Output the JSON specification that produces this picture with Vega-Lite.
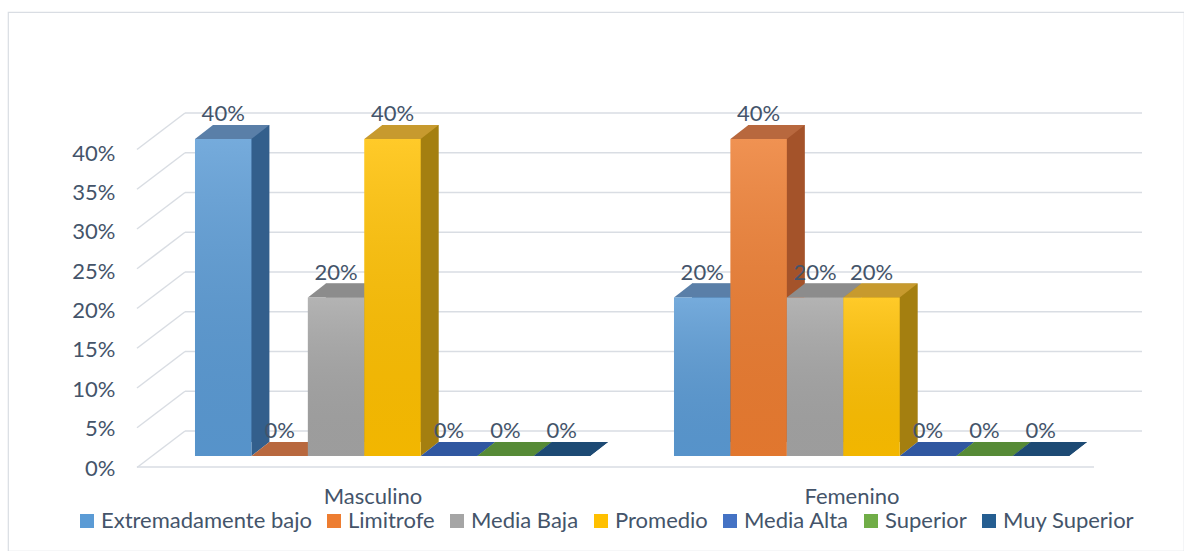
{
  "$schema": "https://vega.github.io/schema/vega-lite/v6.json",
  "width": 1176,
  "height": 539,
  "autosize": {"type": "none"},
  "padding": {"left": 8, "top": 12, "right": 0, "bottom": 0},
  "background": "white",
  "config": {"view": {"stroke": "#D9DDE3", "strokeWidth": 1.2}, "font": "Lato"},
  "data": {"values": [
    {"grupo": "Masculino", "nivel": "Extremadamente bajo", "valor": 0.4},
    {"grupo": "Masculino", "nivel": "Limitrofe", "valor": 0},
    {"grupo": "Masculino", "nivel": "Media Baja", "valor": 0.2},
    {"grupo": "Masculino", "nivel": "Promedio", "valor": 0.4},
    {"grupo": "Masculino", "nivel": "Media Alta", "valor": 0},
    {"grupo": "Masculino", "nivel": "Superior", "valor": 0},
    {"grupo": "Masculino", "nivel": "Muy Superior", "valor": 0},
    {"grupo": "Femenino", "nivel": "Extremadamente bajo", "valor": 0.2},
    {"grupo": "Femenino", "nivel": "Limitrofe", "valor": 0.4},
    {"grupo": "Femenino", "nivel": "Media Baja", "valor": 0.2},
    {"grupo": "Femenino", "nivel": "Promedio", "valor": 0.2},
    {"grupo": "Femenino", "nivel": "Media Alta", "valor": 0},
    {"grupo": "Femenino", "nivel": "Superior", "valor": 0},
    {"grupo": "Femenino", "nivel": "Muy Superior", "valor": 0}
  ]},
  "layer": [
    {
      "data": {"values": [{"t": 0}, {"t": 0.05}, {"t": 0.1}, {"t": 0.15}, {"t": 0.2}, {"t": 0.25}, {"t": 0.3}, {"t": 0.35}, {"t": 0.4}]},
      "mark": {"type": "rule", "color": "#D9DDE3", "strokeWidth": 1.5},
      "encoding": {
        "y": {"field": "t", "type": "quantitative", "scale": {"domain": [-0.15094, 0.52704], "nice": false, "zero": false}, "axis": null},
        "x": {"datum": 0, "type": "quantitative", "scale": {"domain": [-0.18495, 1.04389], "nice": false, "zero": false}, "axis": null},
        "x2": {"datum": 1}
      }
    },
    {
      "data": {"values": [{"t": 0}, {"t": 0.05}, {"t": 0.1}, {"t": 0.15}, {"t": 0.2}, {"t": 0.25}, {"t": 0.3}, {"t": 0.35}, {"t": 0.4}]},
      "mark": {"type": "rule", "color": "#D9DDE3", "strokeWidth": 1.5, "y2Offset": 36.5},
      "encoding": {
        "y": {"field": "t", "type": "quantitative", "scale": {"domain": [-0.15094, 0.52704], "nice": false, "zero": false}, "axis": null},
        "y2": {"field": "t"},
        "x": {"datum": 0, "type": "quantitative", "scale": {"domain": [-0.18495, 1.04389], "nice": false, "zero": false}, "axis": null},
        "x2": {"datum": -0.05016}
      }
    },
    {
      "data": {"values": [{"t": 0}]},
      "mark": {"type": "rule", "color": "#D9DDE3", "strokeWidth": 1.5, "yOffset": 36},
      "encoding": {
        "y": {"field": "t", "type": "quantitative", "scale": {"domain": [-0.15094, 0.52704], "nice": false, "zero": false}, "axis": null},
        "x": {"datum": -0.05016, "type": "quantitative", "scale": {"domain": [-0.18495, 1.04389], "nice": false, "zero": false}, "axis": null},
        "x2": {"datum": 0.94984}
      }
    },
    {
      "data": {"values": [{"t": 0}, {"t": 0.05}, {"t": 0.1}, {"t": 0.15}, {"t": 0.2}, {"t": 0.25}, {"t": 0.3}, {"t": 0.35}, {"t": 0.4}]},
      "mark": {"type": "point", "opacity": 0},
      "encoding": {
        "y": {"field": "t", "type": "quantitative", "scale": {"domain": [-0.10546, 0.57942], "nice": false, "zero": false},
          "axis": {"orient": "left", "offset": -107, "values": [0, 0.05, 0.1, 0.15, 0.2, 0.25, 0.3, 0.35, 0.4], "format": ".0%", "grid": false, "domain": false, "ticks": false, "labelPadding": 0, "title": null, "labelFont": "Lato", "labelFontSize": 22, "labelColor": "#44546A", "labelBaseline": "middle"}}
      }
    },
    {
      "mark": {"type": "bar"},
      "encoding": {
        "x": {"field": "grupo", "type": "nominal", "scale": {"type": "band", "domain": ["Masculino", "Femenino"], "paddingInner": 0.175365, "paddingOuter": 0.31524, "align": 0.67876}, "axis": null},
        "xOffset": {"field": "nivel", "type": "nominal", "scale": {"type": "band", "domain": ["Extremadamente bajo", "Limitrofe", "Media Baja", "Promedio", "Media Alta", "Superior", "Muy Superior"], "paddingInner": 0, "paddingOuter": 0}},
        "y": {"field": "valor", "type": "quantitative", "scale": {"domain": [-0.13754, 0.54259], "nice": false, "zero": false}, "axis": null},
        "y2": {"datum": 0},
        "color": {"field": "nivel", "type": "nominal", "scale": {"domain": ["Extremadamente bajo", "Limitrofe", "Media Baja", "Promedio", "Media Alta", "Superior", "Muy Superior"], "range": ["#335F8C", "#A4532A", "#7E7E7E", "#A47F10", "#2A4F8E", "#4E7A34", "#18446B"]}, "legend": null}
      }
    },
    {
      "mark": {"type": "point", "shape": "M 28.2 0 L 46.2 -14 L 28.2 -14 Z", "size": 4, "filled": true, "opacity": 1, "strokeWidth": 0},
      "encoding": {
        "x": {"field": "grupo", "type": "nominal", "scale": {"type": "band", "domain": ["Masculino", "Femenino"], "paddingInner": 0.175365, "paddingOuter": 0.31524, "align": 0.61916}, "axis": null},
        "xOffset": {"field": "nivel", "type": "nominal", "scale": {"type": "band", "domain": ["Extremadamente bajo", "Limitrofe", "Media Baja", "Promedio", "Media Alta", "Superior", "Muy Superior"], "paddingInner": 0, "paddingOuter": 0}},
        "y": {"datum": 0, "type": "quantitative", "scale": {"domain": [-0.11987, 0.56025], "nice": false, "zero": false}, "axis": null},
        "color": {"field": "nivel", "type": "nominal", "scale": {"domain": ["Extremadamente bajo", "Limitrofe", "Media Baja", "Promedio", "Media Alta", "Superior", "Muy Superior"], "range": ["#335F8C", "#A4532A", "#7E7E7E", "#A47F10", "#2A4F8E", "#4E7A34", "#18446B"]}, "legend": null}
      }
    },
    {
      "mark": {"type": "point", "shape": "M -28.2 0 L 28.2 0 L 46.2 -14 L -10.2 -14 Z", "size": 4, "filled": true, "opacity": 1, "strokeWidth": 0},
      "encoding": {
        "x": {"field": "grupo", "type": "nominal", "scale": {"type": "band", "domain": ["Masculino", "Femenino"], "paddingInner": 0.175365, "paddingOuter": 0.31524, "align": 0.61916}, "axis": null},
        "xOffset": {"field": "nivel", "type": "nominal", "scale": {"type": "band", "domain": ["Extremadamente bajo", "Limitrofe", "Media Baja", "Promedio", "Media Alta", "Superior", "Muy Superior"], "paddingInner": 0, "paddingOuter": 0}},
        "y": {"field": "valor", "type": "quantitative", "scale": {"domain": [-0.11987, 0.56025], "nice": false, "zero": false}, "axis": null},
        "color": {"field": "nivel", "type": "nominal", "scale": {"domain": ["Extremadamente bajo", "Limitrofe", "Media Baja", "Promedio", "Media Alta", "Superior", "Muy Superior"], "range": ["#5A7FA8", "#B8683E", "#8C8C8C", "#C79A2E", "#3057A0", "#568A36", "#1D4A74"]}, "legend": null}
      }
    },
    {
      "mark": {"type": "bar"},
      "encoding": {
        "x": {"field": "grupo", "type": "nominal", "scale": {"type": "band", "domain": ["Masculino", "Femenino"], "paddingInner": 0.175365, "paddingOuter": 0.31524, "align": 0.61916},
          "axis": {"orient": "bottom", "offset": -48, "labelPadding": 0, "labelBaseline": "alphabetic", "labelOffset": -19.5, "labelAngle": 0, "ticks": false, "domain": false, "grid": false, "title": null, "labelFont": "Lato", "labelFontSize": 22, "labelColor": "#44546A"}},
        "xOffset": {"field": "nivel", "type": "nominal", "scale": {"type": "band", "domain": ["Extremadamente bajo", "Limitrofe", "Media Baja", "Promedio", "Media Alta", "Superior", "Muy Superior"], "paddingInner": 0, "paddingOuter": 0}},
        "y": {"field": "valor", "type": "quantitative", "scale": {"domain": [-0.11987, 0.56025], "nice": false, "zero": false}, "axis": null},
        "y2": {"datum": 0},
        "color": {"field": "nivel", "type": "nominal", "scale": {"domain": ["Extremadamente bajo", "Limitrofe", "Media Baja", "Promedio", "Media Alta", "Superior", "Muy Superior"], "range": ["#5B9BD5", "#ED7D31", "#A5A5A5", "#FFC000", "#4472C4", "#70AD47", "#255E91"]},
          "legend": {"orient": "none", "legendX": 68, "legendY": 498, "direction": "horizontal", "title": null, "symbolType": "square", "symbolSize": 196, "symbolStrokeWidth": 0, "labelFont": "Lato", "labelFontSize": 22, "labelColor": "#44546A", "labelOffset": 3, "columnPadding": 11, "padding": 0, "labelLimit": 500}}
      }
    },
    {
      "mark": {"type": "bar", "color": {"gradient": "linear", "x1": 0, "y1": 0, "x2": 0, "y2": 1, "stops": [{"offset": 0, "color": "rgba(255,255,255,0.16)"}, {"offset": 1, "color": "rgba(0,0,0,0.05)"}]}},
      "encoding": {
        "x": {"field": "grupo", "type": "nominal", "scale": {"type": "band", "domain": ["Masculino", "Femenino"], "paddingInner": 0.175365, "paddingOuter": 0.31524, "align": 0.61916}, "axis": null},
        "xOffset": {"field": "nivel", "type": "nominal", "scale": {"type": "band", "domain": ["Extremadamente bajo", "Limitrofe", "Media Baja", "Promedio", "Media Alta", "Superior", "Muy Superior"], "paddingInner": 0, "paddingOuter": 0}},
        "y": {"field": "valor", "type": "quantitative", "scale": {"domain": [-0.11987, 0.56025], "nice": false, "zero": false}, "axis": null},
        "y2": {"datum": 0}
      }
    },
    {
      "mark": {"type": "text", "font": "Lato", "fontSize": 22, "color": "#44546A", "baseline": "alphabetic", "align": "center", "dy": -18},
      "encoding": {
        "x": {"field": "grupo", "type": "nominal", "scale": {"type": "band", "domain": ["Masculino", "Femenino"], "paddingInner": 0.175365, "paddingOuter": 0.31524, "align": 0.61916}, "axis": null},
        "xOffset": {"field": "nivel", "type": "nominal", "scale": {"type": "band", "domain": ["Extremadamente bajo", "Limitrofe", "Media Baja", "Promedio", "Media Alta", "Superior", "Muy Superior"], "paddingInner": 0, "paddingOuter": 0}},
        "y": {"field": "valor", "type": "quantitative", "scale": {"domain": [-0.11987, 0.56025], "nice": false, "zero": false}, "axis": null},
        "text": {"field": "valor", "type": "quantitative", "format": ".0%"}
      }
    }
  ],
  "resolve": {"scale": {"x": "independent", "y": "independent", "xOffset": "independent", "color": "independent"}}
}
